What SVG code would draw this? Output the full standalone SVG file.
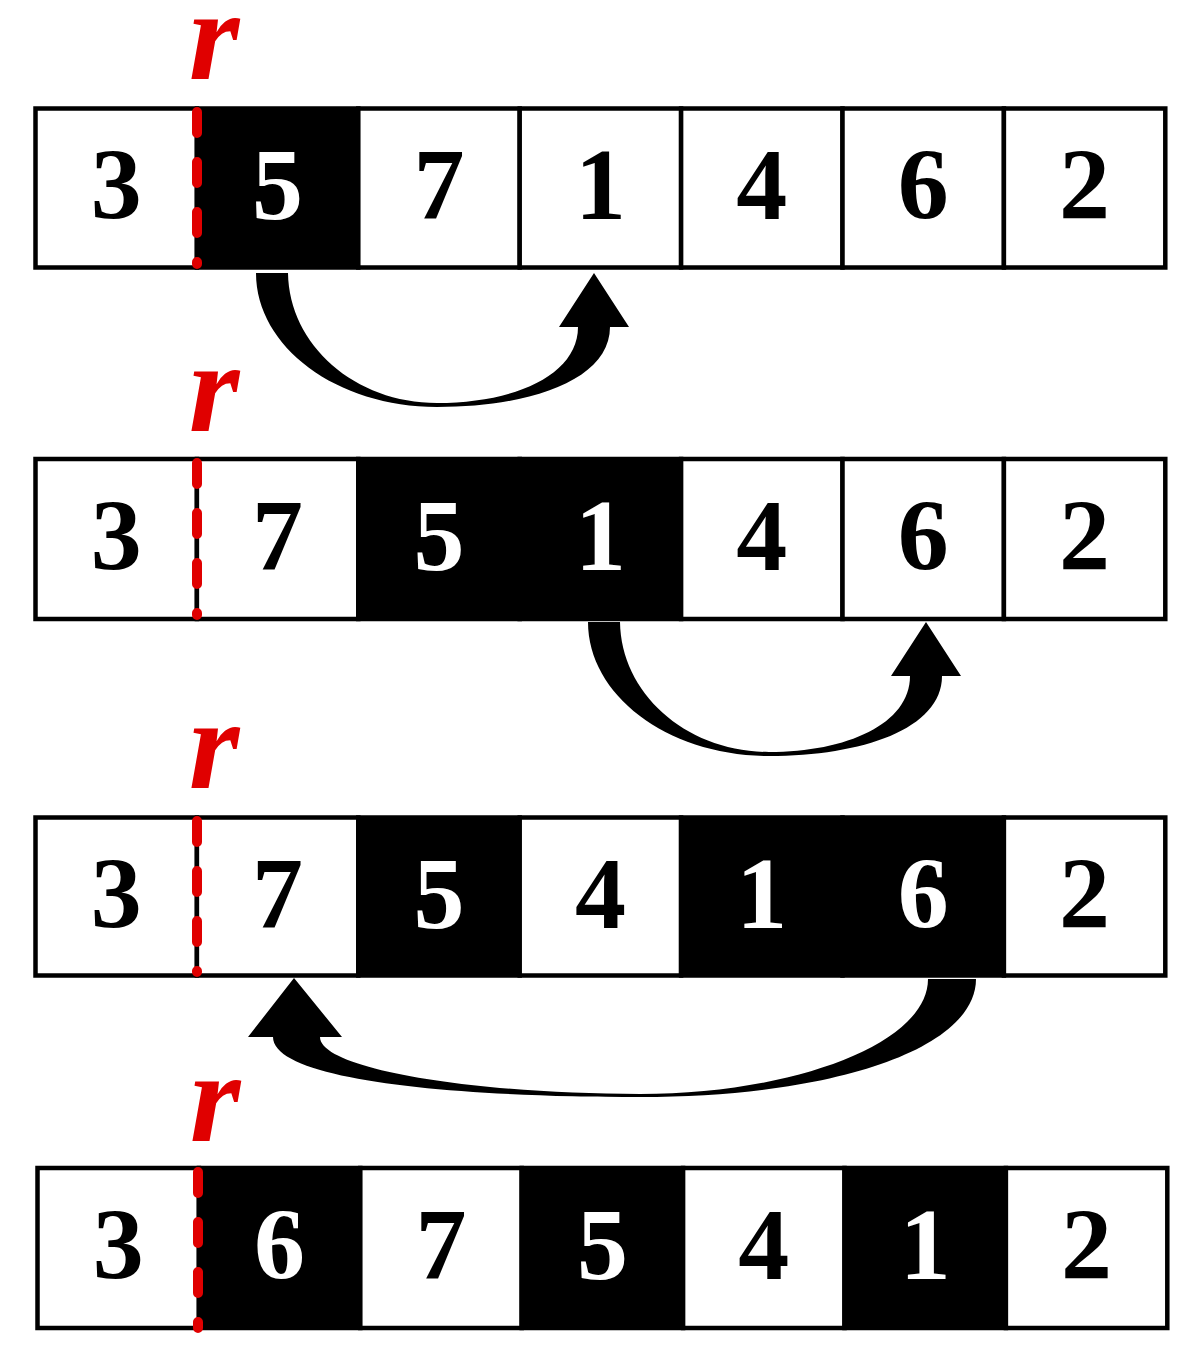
<svg xmlns="http://www.w3.org/2000/svg" width="1190" height="1351" viewBox="0 0 1190 1351">
<style>
.w{fill:#fff;stroke:#000;stroke-width:4.5}
.b{fill:#000;stroke:#000;stroke-width:4.5}
.n{font-weight:700;font-size:102px;text-anchor:middle}
.nw{fill:#000}.nb{fill:#fff}
.r{font-weight:700;font-style:italic;font-size:130px;fill:#e00000;text-anchor:middle}
.d{stroke:#e00000;stroke-width:10;stroke-linecap:round;stroke-dasharray:21 29;fill:none}
.a{fill:#000;stroke:none}
</style>
<defs>
<path id="arr" d="M256,273 L288,273 C289,345 355,403 437,403 C515,403 578,375 578,327 L559,327 L594,273 L629,327 L610,327 C610,380 530,407 437,407 C337,407 256,347 256,273 Z"/>
</defs>
<g font-family="Liberation Serif, Times New Roman, Times, serif">
<g id="row1">
<g id="r1c1"><rect class="w" x="35.5" y="108.5" width="161.4" height="159"/><text class="n nw" x="116.2" y="219">3</text></g>
<g id="r1c2"><rect class="b" x="196.9" y="108.5" width="161.4" height="159"/><text class="n nb" x="277.6" y="219">5</text></g>
<g id="r1c3"><rect class="w" x="358.3" y="108.5" width="161.4" height="159"/><text class="n nw" x="439" y="219">7</text></g>
<g id="r1c4"><rect class="w" x="519.7" y="108.5" width="161.4" height="159"/><text class="n nw" x="600.4" y="219">1</text></g>
<g id="r1c5"><rect class="w" x="681.1" y="108.5" width="161.4" height="159"/><text class="n nw" x="761.8" y="219">4</text></g>
<g id="r1c6"><rect class="w" x="842.5" y="108.5" width="161.4" height="159"/><text class="n nw" x="923.2" y="219">6</text></g>
<g id="r1c7"><rect class="w" x="1003.9" y="108.5" width="161.4" height="159"/><text class="n nw" x="1084.6" y="219">2</text></g>
<line class="d" x1="197" y1="112" x2="197" y2="264"/>
<text class="r" x="214" y="79">r</text>
</g>

<g id="row2">
<g id="r2c1"><rect class="w" x="35.5" y="459" width="161.4" height="160"/><text class="n nw" x="116.2" y="570">3</text></g>
<g id="r2c2"><rect class="w" x="196.9" y="459" width="161.4" height="160"/><text class="n nw" x="277.6" y="570">7</text></g>
<g id="r2c3"><rect class="b" x="358.3" y="459" width="161.4" height="160"/><text class="n nb" x="439" y="570">5</text></g>
<g id="r2c4"><rect class="b" x="519.7" y="459" width="161.4" height="160"/><text class="n nb" x="600.4" y="570">1</text></g>
<g id="r2c5"><rect class="w" x="681.1" y="459" width="161.4" height="160"/><text class="n nw" x="761.8" y="570">4</text></g>
<g id="r2c6"><rect class="w" x="842.5" y="459" width="161.4" height="160"/><text class="n nw" x="923.2" y="570">6</text></g>
<g id="r2c7"><rect class="w" x="1003.9" y="459" width="161.4" height="160"/><text class="n nw" x="1084.6" y="570">2</text></g>
<line class="d" x1="197" y1="463" x2="197" y2="615"/>
<text class="r" x="214" y="431">r</text>
</g>

<g id="row3">
<g id="r3c1"><rect class="w" x="35.5" y="817.5" width="161.4" height="158"/><text class="n nw" x="116.2" y="928">3</text></g>
<g id="r3c2"><rect class="w" x="196.9" y="817.5" width="161.4" height="158"/><text class="n nw" x="277.6" y="928">7</text></g>
<g id="r3c3"><rect class="b" x="358.3" y="817.5" width="161.4" height="158"/><text class="n nb" x="439" y="928">5</text></g>
<g id="r3c4"><rect class="w" x="519.7" y="817.5" width="161.4" height="158"/><text class="n nw" x="600.4" y="928">4</text></g>
<g id="r3c5"><rect class="b" x="681.1" y="817.5" width="161.4" height="158"/><text class="n nb" x="761.8" y="928">1</text></g>
<g id="r3c6"><rect class="b" x="842.5" y="817.5" width="161.4" height="158"/><text class="n nb" x="923.2" y="928">6</text></g>
<g id="r3c7"><rect class="w" x="1003.9" y="817.5" width="161.4" height="158"/><text class="n nw" x="1084.6" y="928">2</text></g>
<line class="d" x1="197" y1="821" x2="197" y2="972"/>
<text class="r" x="214" y="788">r</text>
</g>

<g id="row4">
<g id="r4c1"><rect class="w" x="37.5" y="1168" width="161.4" height="160"/><text class="n nw" x="118.2" y="1279">3</text></g>
<g id="r4c2"><rect class="b" x="198.9" y="1168" width="161.4" height="160"/><text class="n nb" x="279.6" y="1279">6</text></g>
<g id="r4c3"><rect class="w" x="360.3" y="1168" width="161.4" height="160"/><text class="n nw" x="441" y="1279">7</text></g>
<g id="r4c4"><rect class="b" x="521.7" y="1168" width="161.4" height="160"/><text class="n nb" x="602.4" y="1279">5</text></g>
<g id="r4c5"><rect class="w" x="683.1" y="1168" width="161.4" height="160"/><text class="n nw" x="763.8" y="1279">4</text></g>
<g id="r4c6"><rect class="b" x="844.5" y="1168" width="161.4" height="160"/><text class="n nb" x="925.2" y="1279">1</text></g>
<g id="r4c7"><rect class="w" x="1005.9" y="1168" width="161.4" height="160"/><text class="n nw" x="1086.6" y="1279">2</text></g>
<line class="d" x1="198" y1="1172" x2="198" y2="1328"/>
<text class="r" x="215" y="1141">r</text>
</g>
</g>

<g id="connectors">
<use href="#arr" class="a"/>
<use href="#arr" class="a" transform="translate(332,349)"/>
<path class="a" d="M976,979 C976,1050 830,1097 640,1097 C450,1097 273,1080 273,1037 L248,1037 L294,978 L342,1037 L320,1037 C320,1070 480,1094 640,1094 C790,1094 928,1045 928,979 Z"/>
</g>
</svg>
